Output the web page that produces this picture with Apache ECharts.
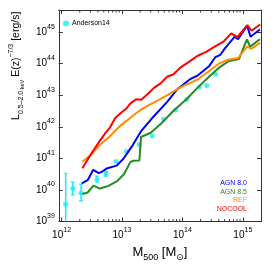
<!DOCTYPE html>
<html><head><meta charset="utf-8">
<script src="https://cdn.jsdelivr.net/npm/echarts@6/dist/echarts.min.js"></script>
<style>html,body{margin:0;padding:0;background:#fff}#c{width:274px;height:267px}</style>
</head><body><div id="c"></div>
<script>
// ---------- data ----------
const nocoolM = [2.21e12, 3.19e12, 4.24e12, 5.35e12, 6.43e12, 7.73e12, 9.89e12, 1.159e13, 1.393e13, 1.718e13, 2.09e13, 2.64e13, 3.41e13, 4.37e13, 5.58e13, 7.05e13, 9.12e13, 1.318e14, 1.79e14, 2.44e14, 3.31e14, 4.79e14, 6.43e14, 8.17e14, 1.19e15, 1.39e15, 1.94e15];
const nocoolL = [4.87e40, 1.54e41, 3.47e41, 6.49e41, 1.0e42, 1.91e42, 2.88e42, 3.65e42, 5.62e42, 7.50e42, 7.23e42, 1.07e43, 1.74e43, 2.37e43, 3.84e43, 4.53e43, 7.34e43, 1.18e44, 1.78e44, 2.32e44, 3.33e44, 4.98e44, 9.10e44, 6.98e44, 1.66e45, 1.10e45, 1.74e45];

const refM = [2.21e12, 3.11e12, 4.24e12, 6.12e12, 7.73e12, 9.29e12, 1.189e13, 1.517e13, 2.065e13, 2.99e13, 4.32e13, 6.62e13, 1.019e14, 1.435e14, 1.79e14, 2.75e14, 3.98e14, 5.75e14, 8.32e14, 1.18e15, 1.39e15, 1.94e15];
const refL = [7.89e40, 1.33e41, 2.61e41, 4.76e41, 7.50e41, 1.07e42, 1.54e42, 2.25e42, 3.52e42, 5.23e42, 7.50e42, 1.21e43, 1.95e43, 2.61e43, 3.16e43, 5.74e43, 1.0e44, 1.33e44, 1.51e44, 3.47e44, 2.99e44, 4.63e44];

const agn80M = [2.15e12, 2.70e12, 3.34e12, 4.13e12, 4.79e12, 5.55e12, 8.17e12, 1.057e13, 1.500e13, 2.09e13, 3.40e13, 5.55e13, 8.07e13, 1.318e14, 1.79e14, 2.75e14, 3.52e14, 4.24e14, 5.09e14, 7.36e14, 8.32e14, 1.18e15, 1.34e15, 1.92e15];
const agn80L = [1.62e40, 2.05e40, 4.37e40, 3.40e40, 3.92e40, 4.77e40, 5.91e40, 9.79e40, 2.6e41, 7.50e41, 2.21e42, 6.04e42, 1.49e43, 3.16e43, 4.22e43, 8.24e43, 1.62e44, 1.91e44, 3.10e44, 7.13e44, 5.92e44, 1.60e45, 7.13e44, 1.21e45];

const agn85M = [2.21e12, 2.70e12, 3.37e12, 4.29e12, 5.86e12, 8.32e12, 1.076e13, 1.368e13, 1.517e13, 1.941e13, 2.065e13, 2.99e13, 4.32e13, 7.13e13, 1.167e14, 1.79e14, 2.75e14, 3.98e14, 5.75e14, 8.63e14, 1.17e15, 1.32e15, 1.92e15];
const agn85L = [7.50e39, 8.35e39, 1.38e40, 1.11e40, 1.33e40, 1.91e40, 3.16e40, 7.50e40, 8.47e40, 8.66e40, 4.76e41, 6.49e41, 1.20e42, 3.23e42, 7.50e42, 1.74e43, 3.84e43, 7.34e43, 1.18e44, 1.40e44, 5.83e44, 3.47e44, 5.92e44];

const andersonM  = [1.17e12, 1.53e12, 2.10e12, 3.87e12, 5.44e12, 7.93e12, 1.19e13, 1.93e13, 3.17e13, 4.88e13, 7.73e13, 1.18e14, 1.91e14, 2.53e14, 3.56e14];
const andersonL  = [3.52e39, 1.11e40, 8.06e39, 2.21e40, 3.28e40, 7.94e40, 1.66e41, 2.74e41, 5.12e41, 1.75e42, 3.40e42, 7.34e42, 1.82e43, 2.05e43, 4.63e43];
const andersonLo = [3.0e38, 6.98e39, 4.53e39, 1.78e40, 2.74e40, 7.94e40, 1.66e41, 2.74e41, 5.12e41, 1.75e42, 3.40e42, 7.34e42, 1.82e43, 2.05e43, 4.63e43];
const andersonHi = [3.40e40, 1.78e40, 1.54e40, 2.74e40, 3.92e40, 7.94e40, 1.66e41, 2.74e41, 5.12e41, 1.75e42, 3.40e42, 7.34e42, 1.82e43, 2.05e43, 4.63e43];

const minorTickMasses = [2e12,3e12,4e12,5e12,6e12,7e12,8e12,9e12, 2e13,3e13,4e13,5e13,6e13,7e13,8e13,9e13, 2e14,3e14,4e14,5e14,6e14,7e14,8e14,9e14];

const modelNames = ['AGN 8.0', 'AGN 8.5', 'REF', 'NOCOOL'];
const obsName = 'Anderson14';

// ---------- styling ----------
const FONT = '"Liberation Sans", Arial, Helvetica, sans-serif';
const C_BLUE = '#0000ff', C_GREEN = '#228b22', C_ORANGE = '#ff8c00', C_RED = '#ff0000', C_CYAN = '#19eef0';
const AX = '#333';
const xMin = 9e11, xMax = 2e15, yMin = 1e39, yMax = 5e45;

const pairs = (a, b) => a.map((v, i) => [v, b[i]]);
const powFmt = v => {
  const e = Math.log10(v), r = Math.round(e);
  if (Math.abs(e - r) > 1e-6) return '';
  return '{b|10}{s|' + r + '}';
};
const tickRich = {
  b: {fontSize: 10, fontFamily: FONT, color: '#000', lineHeight: 18, verticalAlign: 'middle'},
  s: {fontSize: 7, fontFamily: FONT, color: '#000', lineHeight: 8, verticalAlign: 'top'}
};

const chart = echarts.init(document.getElementById('c'), null, {renderer: 'canvas'});

const axisCommon = {
  type: 'log', logBase: 10,
  axisLine: {show: true, lineStyle: {color: AX, width: 1}},
  axisTick: {show: true, inside: true, length: 4, lineStyle: {color: AX}},
  splitLine: {show: false},
  minorTick: {show: false}
};

chart.setOption({
  animation: false,
  backgroundColor: '#fff',
  grid: {left: 52, right: 13, top: 10, bottom: 43, containLabel: false},
  legend: {
    data: [obsName], left: 63, top: 20, padding: 0,
    icon: 'circle', itemWidth: 6, itemHeight: 6, itemGap: 2,
    textStyle: {fontSize: 7, fontFamily: FONT, color: '#000', padding: [0, 0, 0, -2]}
  },
  xAxis: [
    Object.assign({}, axisCommon, {
      position: 'bottom', min: xMin, max: xMax,
      axisLabel: {formatter: powFmt, rich: tickRich, margin: 5, showMinLabel: false, showMaxLabel: false},
      name: '{m|M}{d|500}{m| [M}{o|⊙}{m|]}',
      nameLocation: 'middle', nameGap: 20,
      nameTextStyle: {rich: {
        m: {fontSize: 13, fontFamily: FONT, color: '#000', lineHeight: 20, verticalAlign: 'middle'},
        d: {fontSize: 9, fontFamily: FONT, color: '#000', lineHeight: 9, verticalAlign: 'bottom'},
        o: {fontSize: 9, fontFamily: 'DejaVu Sans', color: '#000', lineHeight: 9, verticalAlign: 'bottom'}
      }}
    }),
    Object.assign({}, axisCommon, {
      position: 'top', min: xMin, max: xMax, axisLabel: {show: false}
    })
  ],
  yAxis: [
    Object.assign({}, axisCommon, {
      position: 'left', min: yMin, max: yMax,
      axisLabel: {formatter: powFmt, rich: tickRich, margin: 4, showMinLabel: true, showMaxLabel: false},
      name: '{m|L}{d|0.5–2.0}{k| keV}{m| E(z)}{p|−7/3}{m| [erg/s]}',
      nameLocation: 'middle', nameGap: 31, nameRotate: 90,
      nameTextStyle: {padding: [0, 0, 0, 100], rich: {
        m: {fontSize: 10.5, fontFamily: FONT, color: '#000', lineHeight: 17, verticalAlign: 'middle'},
        d: {fontSize: 7, fontFamily: FONT, color: '#000', lineHeight: 7, verticalAlign: 'bottom'},
        k: {fontSize: 5.5, fontFamily: FONT, color: '#000', lineHeight: 6, verticalAlign: 'bottom'},
        p: {fontSize: 7, fontFamily: FONT, color: '#000', lineHeight: 7, verticalAlign: 'top'}
      }}
    }),
    Object.assign({}, axisCommon, {
      position: 'right', min: yMin, max: yMax, axisLabel: {show: false}
    })
  ],
  graphic: [
    {type: 'text', right: 27, top: 180, style: {text: modelNames[0], fill: C_BLUE, font: '7px ' + FONT}},
    {type: 'text', right: 27, top: 188.5, style: {text: modelNames[1], fill: C_GREEN, font: '7px ' + FONT}},
    {type: 'text', right: 27, top: 197, style: {text: modelNames[2], fill: C_ORANGE, font: '7px ' + FONT}},
    {type: 'text', right: 27, top: 205.5, style: {text: modelNames[3], fill: C_RED, font: '7px ' + FONT}}
  ],
  series: [
    {
      type: 'custom', name: 'minorTicks', silent: true, clip: false,
      data: minorTickMasses.map(m => [m, 1e42]),
      renderItem: (params, api) => {
        const x = api.coord([api.value(0), 1e42])[0];
        const cs = params.coordSys;
        const t = cs.y, b = cs.y + cs.height;
        return {type: 'group', children: [
          {type: 'line', shape: {x1: x, y1: b, x2: x, y2: b - 2.5}, style: {stroke: AX, lineWidth: 1}},
          {type: 'line', shape: {x1: x, y1: t, x2: x, y2: t + 2.5}, style: {stroke: AX, lineWidth: 1}}
        ]};
      }
    },
    {type: 'line', name: modelNames[1], data: pairs(agn85M, agn85L), showSymbol: false, lineStyle: {color: C_GREEN, width: 2}, itemStyle: {color: C_GREEN}},
    {type: 'line', name: modelNames[0], data: pairs(agn80M, agn80L), showSymbol: false, lineStyle: {color: C_BLUE, width: 2}, itemStyle: {color: C_BLUE}},
    {type: 'line', name: modelNames[2], data: pairs(refM, refL), showSymbol: false, lineStyle: {color: C_ORANGE, width: 2}, itemStyle: {color: C_ORANGE}},
    {type: 'line', name: modelNames[3], data: pairs(nocoolM, nocoolL), showSymbol: false, lineStyle: {color: C_RED, width: 2}, itemStyle: {color: C_RED}},
    {
      type: 'custom', name: 'errors', clip: true, silent: true,
      data: andersonM.map((m, i) => [m, andersonLo[i], andersonHi[i]]),
      renderItem: (params, api) => {
        const lo = api.value(1), hi = api.value(2);
        if (lo === hi) return null;
        const p1 = api.coord([api.value(0), lo]);
        const p2 = api.coord([api.value(0), hi]);
        const w = 2;
        return {type: 'group', children: [
          {type: 'line', shape: {x1: p1[0], y1: p1[1], x2: p2[0], y2: p2[1]}, style: {stroke: C_CYAN, lineWidth: 1.5}},
          {type: 'line', shape: {x1: p1[0] - w, y1: p1[1], x2: p1[0] + w, y2: p1[1]}, style: {stroke: C_CYAN, lineWidth: 1.2}},
          {type: 'line', shape: {x1: p2[0] - w, y1: p2[1], x2: p2[0] + w, y2: p2[1]}, style: {stroke: C_CYAN, lineWidth: 1.2}}
        ]};
      }
    },
    {type: 'scatter', name: obsName, data: pairs(andersonM, andersonL), symbol: 'circle', symbolSize: 5, itemStyle: {color: C_CYAN}}
  ]
});
</script></body></html>
